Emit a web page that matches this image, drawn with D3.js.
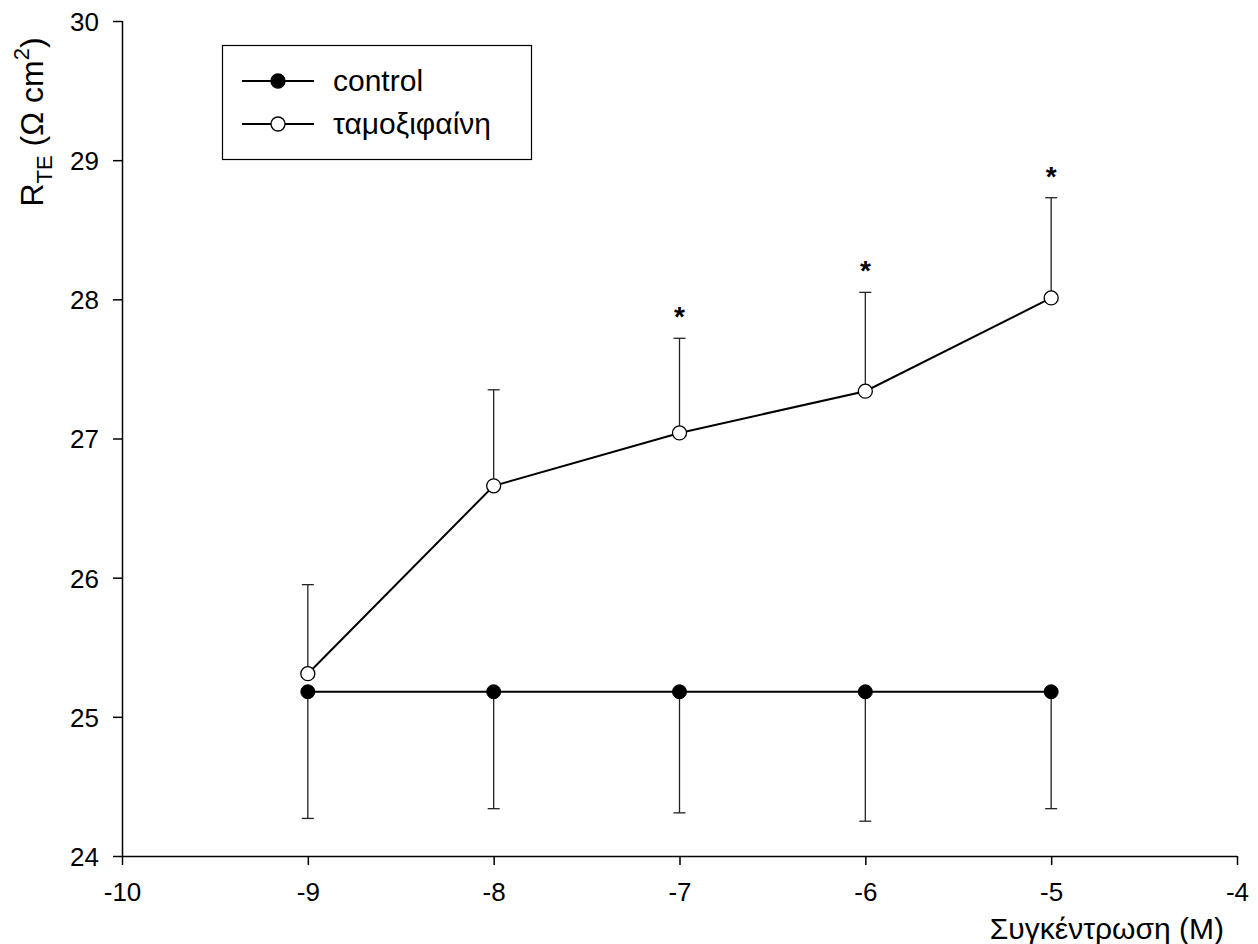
<!DOCTYPE html>
<html><head><meta charset="utf-8">
<script src="https://cdn.jsdelivr.net/npm/d3@7"></script>
<style>body{margin:0;background:#fff}svg{display:block}text{font-family:"Liberation Sans",Arial,sans-serif;fill:#000}</style>
</head><body><svg id="c" width="1258" height="944"></svg>
<script>
const conc = [-9, -8, -7, -6, -5];
const controlMean = [25.18, 25.18, 25.18, 25.18, 25.18];
const controlLower = [24.27, 24.34, 24.31, 24.25, 24.34];
const tamoxMean = [25.31, 26.66, 27.04, 27.34, 28.01];
const tamoxUpper = [25.95, 27.35, 27.72, 28.05, 28.73];
const significant = [false, false, true, true, true];
const xTicks = [-10, -9, -8, -7, -6, -5, -4];
const yTicks = [24, 25, 26, 27, 28, 29, 30];
const seriesNames = ["control", "ταμοξιφαίνη"];

const svg = d3.select("#c");
const x = d3.scaleLinear().domain([-10, -4]).range([122, 1237]);
const y = d3.scaleLinear().domain([24, 30]).range([856, 21]);
const fmt = d => String(d);

const xAxis = svg.append("g").attr("transform", "translate(0,856)")
  .call(d3.axisBottom(x).tickValues(xTicks).tickFormat(fmt).tickSize(9).tickSizeOuter(0).tickPadding(18));
const yAxis = svg.append("g").attr("transform", "translate(122,0)")
  .call(d3.axisLeft(y).tickValues(yTicks).tickFormat(fmt).tickSize(9).tickSizeOuter(0).tickPadding(14));
[xAxis, yAxis].forEach(a => {
  a.attr("font-size", null).attr("font-family", null);
  a.selectAll("path,line").attr("stroke", "#000").attr("stroke-width", 1.5);
  a.selectAll("text").style("font-size", "26px").style("font-family", '"Liberation Sans",Arial,sans-serif');
});
yAxis.selectAll("text").attr("dy", "0.36em");
xAxis.select(".domain").attr("d", "M122,0.5H1237");
yAxis.select(".domain").attr("d", "M0.5,21V856");

// error bars
const cap = 6;
const ctrl = conc.map((c, i) => ({x: c, m: controlMean[i], e: controlLower[i]}));
const tam = conc.map((c, i) => ({x: c, m: tamoxMean[i], e: tamoxUpper[i], s: significant[i]}));
const eb = svg.append("g").attr("stroke", "#222").attr("stroke-width", 1.3);
[...ctrl, ...tam].forEach(d => {
  eb.append("line").attr("x1", x(d.x)).attr("x2", x(d.x)).attr("y1", y(d.m)).attr("y2", y(d.e));
  eb.append("line").attr("x1", x(d.x) - cap).attr("x2", x(d.x) + cap).attr("y1", y(d.e)).attr("y2", y(d.e));
});

const line = d3.line().x(d => x(d.x)).y(d => y(d.m));
svg.append("path").datum(ctrl).attr("d", line).attr("fill", "none").attr("stroke", "#000").attr("stroke-width", 2);
svg.append("path").datum(tam).attr("d", line).attr("fill", "none").attr("stroke", "#000").attr("stroke-width", 2);

svg.selectAll(".cd").data(ctrl).enter().append("circle")
  .attr("cx", d => x(d.x)).attr("cy", d => y(d.m)).attr("r", 7).attr("fill", "#000").attr("stroke", "#000");
svg.selectAll(".td").data(tam).enter().append("circle")
  .attr("cx", d => x(d.x)).attr("cy", d => y(d.m)).attr("r", 7).attr("fill", "#fff").attr("stroke", "#000").attr("stroke-width", 1.3);

svg.selectAll(".star").data(tam.filter(d => d.s)).enter().append("text")
  .attr("x", d => x(d.x)).attr("y", d => y(d.e) - 12).attr("text-anchor", "middle")
  .style("font-size", "28px").style("font-weight", "bold").text("*");

// legend
const lg = svg.append("g");
lg.append("rect").attr("x", 222.5).attr("y", 45.5).attr("width", 309).attr("height", 114)
  .attr("fill", "#fff").attr("stroke", "#000").attr("stroke-width", 1.2);
seriesNames.forEach((n, i) => {
  const yy = 81 + i * 43;
  lg.append("line").attr("x1", 242).attr("x2", 314).attr("y1", yy).attr("y2", yy).attr("stroke", "#000").attr("stroke-width", 2);
  lg.append("circle").attr("cx", 278).attr("cy", yy).attr("r", 7)
    .attr("fill", i === 0 ? "#000" : "#fff").attr("stroke", "#000").attr("stroke-width", 1.3);
  lg.append("text").attr("x", 333).attr("y", yy + 10).style("font-size", "30px").text(n);
});

// axis titles
svg.append("text").attr("x", 1224).attr("y", 939).attr("text-anchor", "end").style("font-size", "30px").text("Συγκέντρωση (M)");
const yl = svg.append("text").attr("transform", "translate(43,122) rotate(-90)").attr("text-anchor", "middle").style("font-size", "32px");
yl.append("tspan").text("R");
yl.append("tspan").attr("dy", 9).style("font-size", "22px").text("TE");
yl.append("tspan").attr("dy", -9).text(" (Ω cm");
yl.append("tspan").attr("dy", -14).style("font-size", "22px").text("2");
yl.append("tspan").attr("dy", 14).text(")");
</script></body></html>
